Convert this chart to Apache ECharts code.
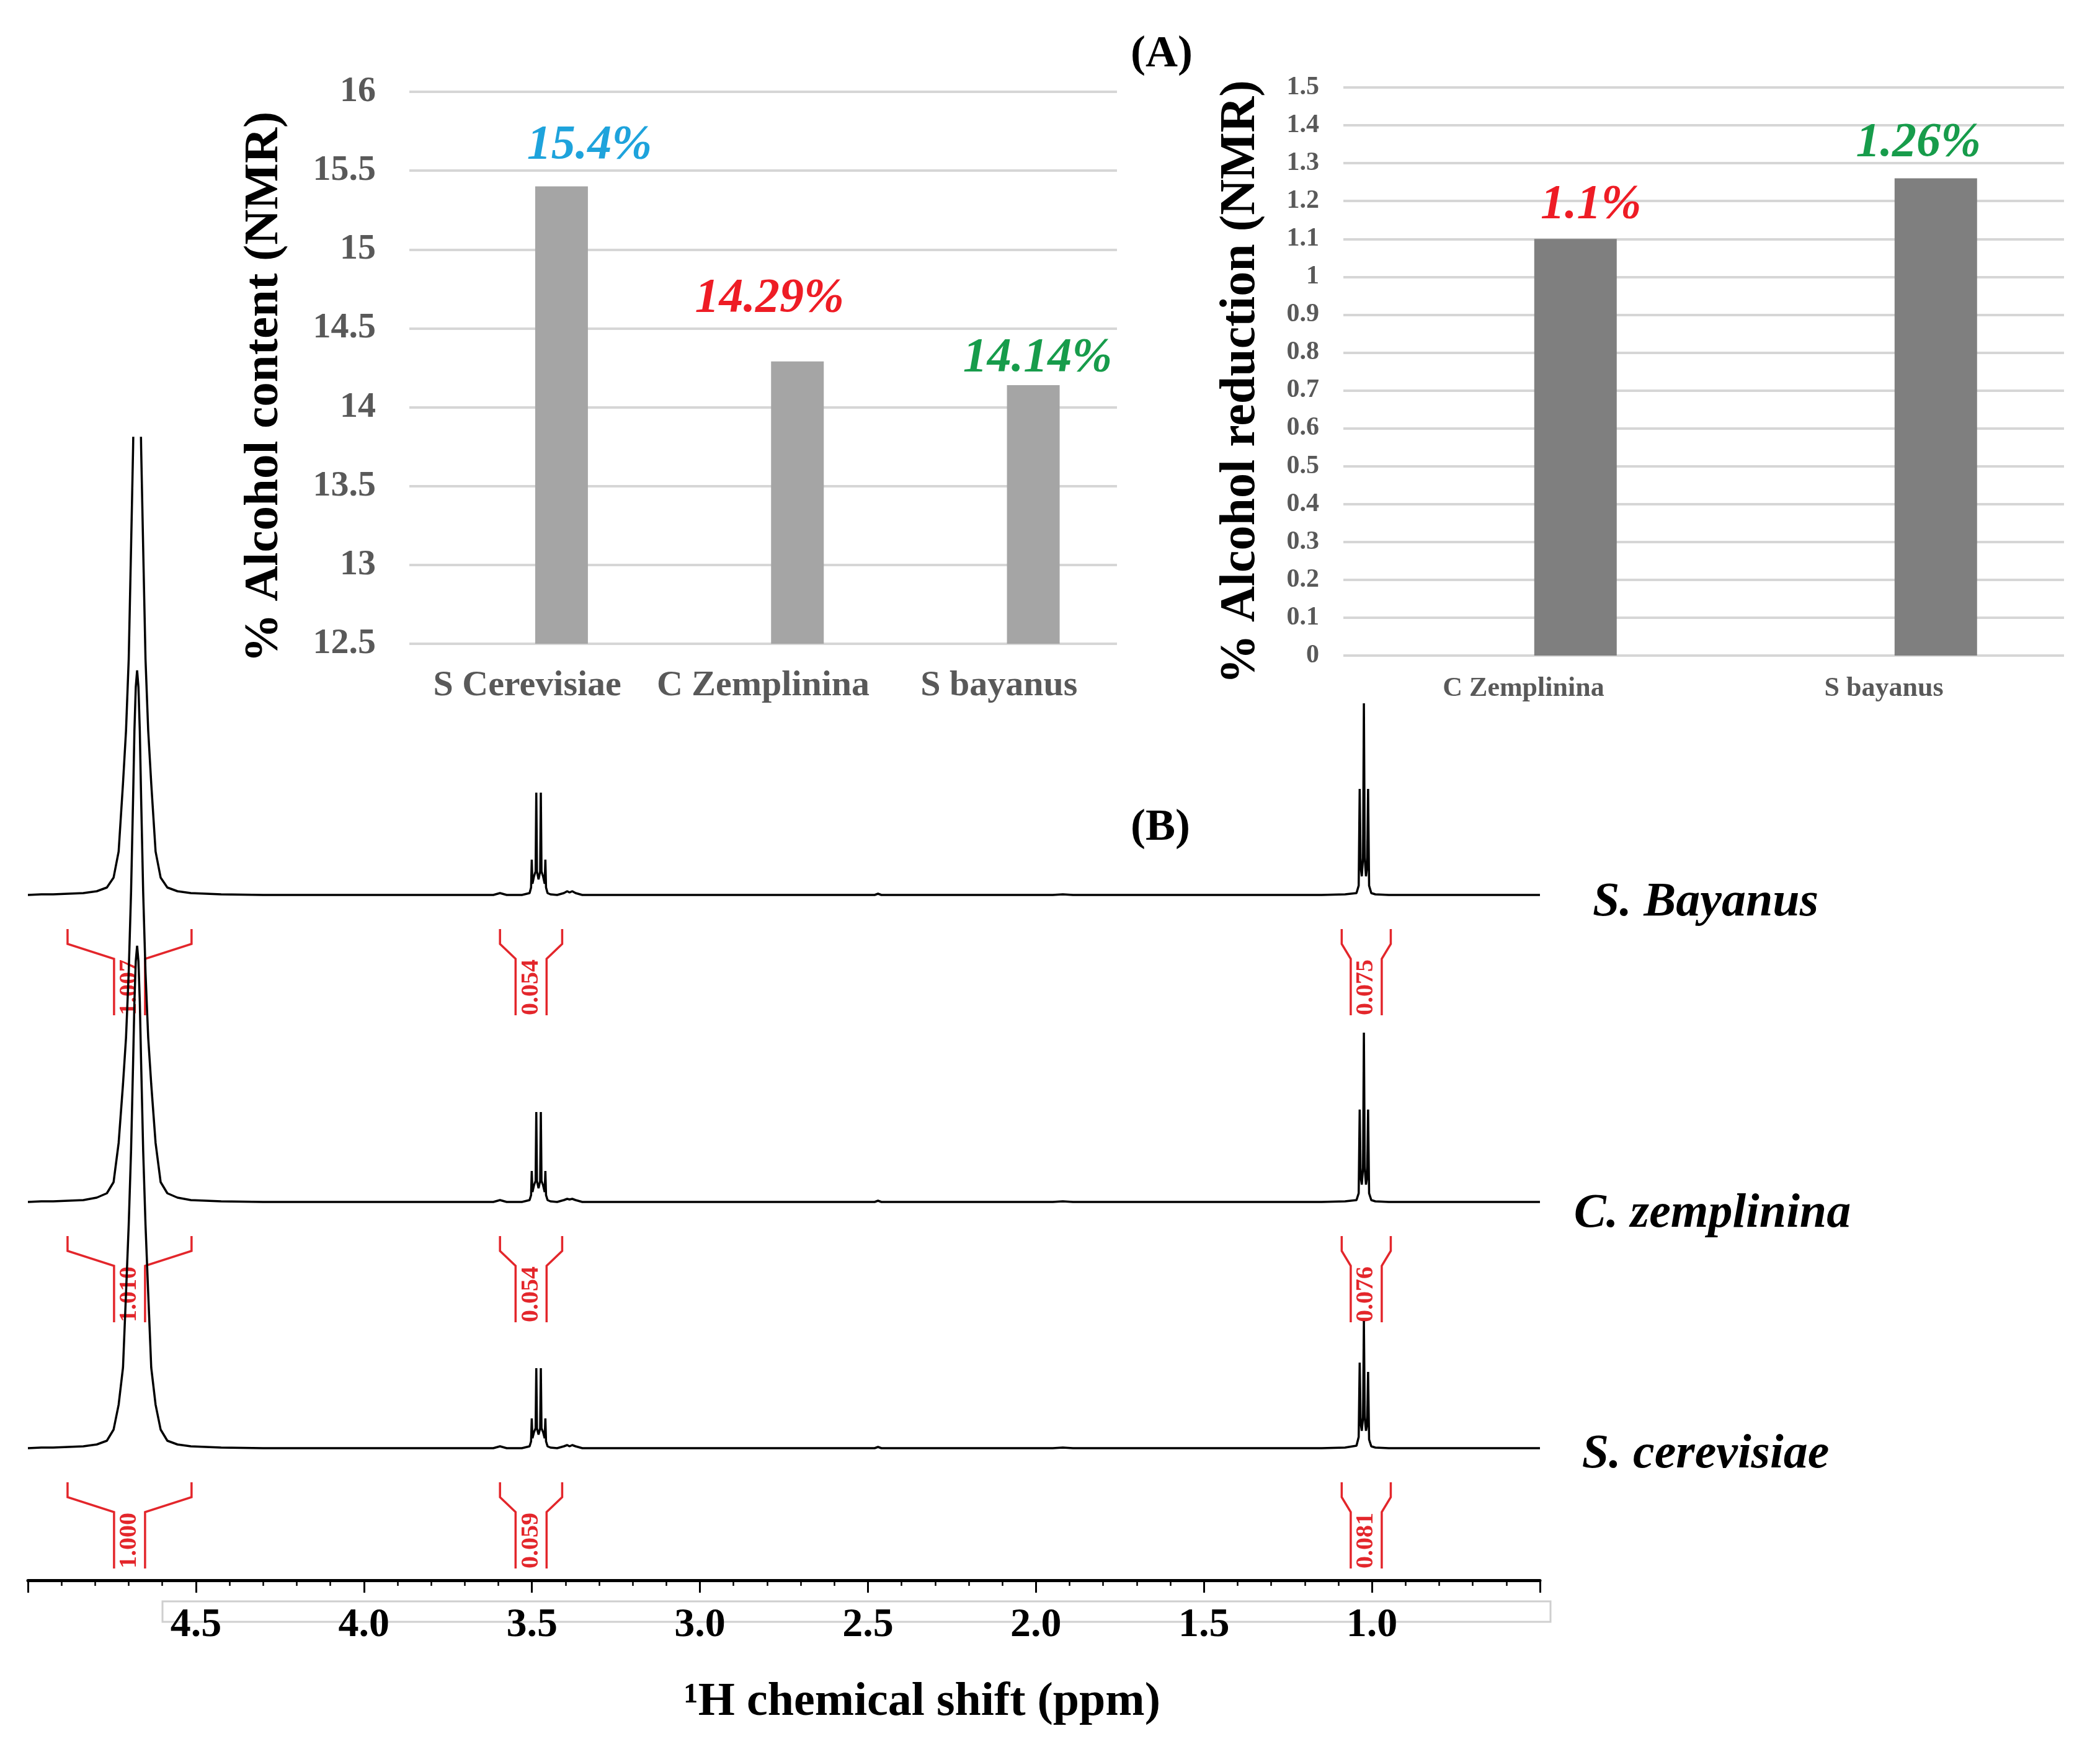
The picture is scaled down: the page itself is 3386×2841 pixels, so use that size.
<!DOCTYPE html>
<html>
<head>
<meta charset="utf-8">
<title>Alcohol content by NMR</title>
<script src="https://cdn.jsdelivr.net/npm/echarts@6/dist/echarts.min.js"></script>
<style>
  html, body { margin: 0; padding: 0; background: #fff; }
  #chart { width: 3386px; height: 2841px; }
</style>
</head>
<body>
<div id="chart"></div>
<script>
// ---- (A) left: alcohol content ----
const contentStrains = ['S Cerevisiae', 'C Zemplinina', 'S bayanus'];
const contentValues = [15.4, 14.29, 14.14];
const contentAxis = { min: 12.5, max: 16, interval: 0.5 };

// ---- (A) right: alcohol reduction ----
const reductionStrains = ['C Zemplinina', 'S bayanus'];
const reductionValues = [1.1, 1.26];
const reductionAxis = { min: 0, max: 1.5, interval: 0.1 };

// ---- (B) 1H spectra, shared chemical shift samples (ppm) ----
const shiftPpm = [
  5.00, 4.96,
  // water
  4.925, 4.835, 4.795, 4.765, 4.745, 4.730, 4.717, 4.708, 4.700, 4.693, 4.687, 4.683, 4.679,
  4.675,
  4.671, 4.667, 4.663, 4.657, 4.650, 4.642, 4.633, 4.620, 4.605, 4.585, 4.555, 4.515, 4.425,
  4.30, 4.10, 3.90, 3.75, 3.65, 3.615, 3.595, 3.575, 3.53,
  // CH2 quartet
  3.507, 3.5025, 3.5005, 3.4985, 3.4938, 3.4890, 3.4870, 3.4850, 3.4803,
  3.4755, 3.4735, 3.4715, 3.4668, 3.4620, 3.4600, 3.4580, 3.4535,
  3.445, 3.425, 3.405, 3.395, 3.388, 3.380, 3.370, 3.350,
  3.20, 3.00, 2.80, 2.60, 2.48, 2.47, 2.46, 2.20, 1.95, 1.92, 1.89, 1.60, 1.30, 1.15, 1.08,
  // CH3 triplet
  1.046, 1.0395, 1.0365, 1.0335, 1.0302, 1.0265, 1.0240, 1.0215, 1.0178, 1.0145, 1.0115, 1.0085, 1.002,
  0.99, 0.95, 0.85, 0.70, 0.50
];

const bayanusIntensity = [
  0, 1,
  1, 3, 6, 12, 28, 70, 180, 265, 380, 560, 720, 860, 960,
  1000,
  960, 860, 720, 560, 380, 265, 180, 70, 28, 12, 6, 3, 1,
  0, 0, 0, 0, 0, 0, 3, 0, 0,
  3, 12, 57, 18, 30, 38, 165, 38, 25,
  38, 165, 38, 30, 18, 57, 12, 3,
  1, 0, 3, 6, 4, 6, 3, 0,
  0, 0, 0, 0, 0, 2, 0, 0, 0, 1, 0, 0, 0, 0, 1,
  3, 15, 171, 45, 30, 60, 309, 60, 30, 45, 171, 15, 3,
  1, 0, 0, 0, 0
];

const zemplininaIntensity = [
  0, 1,
  1, 3, 7, 14, 32, 95, 190, 265, 370, 500, 650, 760, 830,
  857,
  830, 760, 650, 500, 370, 265, 190, 95, 32, 14, 7, 3, 1,
  0, 0, 0, 0, 0, 0, 3, 0, 0,
  3, 11, 50, 16, 27, 34, 145, 34, 22,
  34, 145, 34, 27, 16, 50, 11, 3,
  1, 0, 3, 5, 4, 5, 3, 0,
  0, 0, 0, 0, 0, 2, 0, 0, 0, 1, 0, 0, 0, 0, 1,
  3, 14, 149, 40, 28, 55, 273, 55, 28, 40, 149, 14, 3,
  1, 0, 0, 0, 0
];

const cerevisiaeIntensity = [
  0, 1,
  1, 3, 6, 12, 30, 70, 130, 250, 360, 480, 620, 720, 785,
  810,
  785, 720, 620, 480, 360, 250, 130, 70, 30, 12, 6, 3, 1,
  0, 0, 0, 0, 0, 0, 3, 0, 0,
  3, 11, 48, 16, 26, 32, 129, 32, 22,
  32, 129, 32, 26, 16, 48, 11, 3,
  1, 0, 3, 5, 3, 5, 3, 0,
  0, 0, 0, 0, 0, 2, 0, 0, 0, 1, 0, 0, 0, 0, 1,
  4, 18, 138, 40, 28, 50, 205, 50, 28, 38, 123, 14, 3,
  1, 0, 0, 0, 0
];

const traceNames = ['S. Bayanus', 'C. zemplinina', 'S. cerevisiae'];
const integralRegions = [[4.882, 4.513], [3.595, 3.410], [1.090, 0.944]];
const integralValues = [
  ['1.007', '0.054', '0.075'],
  ['1.010', '0.054', '0.076'],
  ['1.000', '0.059', '0.081']
];
const shiftAxis = { min: 0.5, max: 5.0, interval: 0.5 };

// ---- layout / style ----
const serif = "'Liberation Serif', 'Times New Roman', 'DejaVu Serif', serif";
const red = '#e3262b';
const traceOffset = [1105, 610, 213];   // baseline of each stacked trace, in y units
const traceLabelPos = [[2750, 1456], [2761, 1958], [2750, 2346]];
const contentLabelColors = ['#1ea3dc', '#ee1c25', '#179c4b'];
const contentLabelOffsets = [[45, -27], [-45, -62], [7, -4]];
const reductionLabelColors = ['#ee1c25', '#179c4b'];
const reductionLabelOffsets = [[25, -15], [-28, -18]];

const chart = echarts.init(document.getElementById('chart'));

const barLabel = {
  show: true,
  position: 'top',
  distance: 0,
  fontFamily: serif,
  fontWeight: 'bold',
  fontStyle: 'italic',
  fontSize: 78,
  formatter: p => p.value + '%'
};

const intensities = [bayanusIntensity, zemplininaIntensity, cerevisiaeIntensity];

const spectrumSeries = intensities.map((arr, k) => ({
  type: 'line',
  name: traceNames[k],
  xAxisIndex: 2,
  yAxisIndex: 2,
  data: shiftPpm.map((p, i) => [p, arr[i] + traceOffset[k]]),
  showSymbol: false,
  symbol: 'none',
  clip: true,
  z: 3,
  lineStyle: { color: '#000', width: 3.5 }
}));

const integralData = [];
traceOffset.forEach((_, k) => {
  integralRegions.forEach((r, j) => integralData.push([r[0], r[1], k, j]));
});

const integralSeries = {
  type: 'custom',
  xAxisIndex: 2,
  yAxisIndex: 2,
  z: 1,
  encode: { x: [0, 1], y: 2 },
  data: integralData,
  renderItem: (params, api) => {
    const k = api.value(2), j = api.value(3);
    const a = api.coord([api.value(0), traceOffset[k]]);
    const b = api.coord([api.value(1), traceOffset[k]]);
    const by = a[1];
    const x1 = Math.min(a[0], b[0]), x2 = Math.max(a[0], b[0]);
    const cx = (x1 + x2) / 2;
    const line = { stroke: red, lineWidth: 3.5, fill: null };
    return {
      type: 'group',
      children: [
        { type: 'polyline', shape: { points: [[x1, by + 55], [x1, by + 79], [cx - 25, by + 103], [cx - 25, by + 194]] }, style: line },
        { type: 'polyline', shape: { points: [[x2, by + 55], [x2, by + 79], [cx + 25, by + 103], [cx + 25, by + 194]] }, style: line },
        {
          type: 'text', x: cx, y: by + 149, rotation: Math.PI / 2,
          style: {
            text: integralValues[k][j], fill: red, fontFamily: serif, fontWeight: 'bold',
            fontSize: 40, align: 'center', verticalAlign: 'middle'
          }
        }
      ]
    };
  }
};

const graphicText = (text, x, y, size, opts) => Object.assign({
  type: 'text', x: x, y: y,
  style: Object.assign({
    text: text, fill: '#000', fontFamily: serif, fontWeight: 'bold', fontSize: size,
    align: 'center', verticalAlign: 'middle'
  }, (opts && opts.style) || {})
}, (opts && opts.el) || {});

const option = {
  animation: false,
  backgroundColor: '#fff',
  grid: [
    { left: 660, right: 1585, top: 148, bottom: 1803 },
    { left: 2166, right: 58, top: 141, bottom: 1784 },
    { left: 45, right: 903, top: 706, bottom: 293 }
  ],
  xAxis: [
    {
      gridIndex: 0, type: 'category', data: contentStrains,
      axisLine: { show: false }, axisTick: { show: false },
      axisLabel: { interval: 0, margin: 39, fontFamily: serif, fontWeight: 'bold', fontSize: 58, color: '#595959' }
    },
    {
      gridIndex: 1, type: 'category', data: reductionStrains,
      axisLine: { show: false }, axisTick: { show: false },
      axisLabel: { interval: 0, margin: 32, fontFamily: serif, fontWeight: 'bold', fontSize: 44, color: '#595959' }
    },
    {
      gridIndex: 2, type: 'value', inverse: true,
      min: shiftAxis.min, max: shiftAxis.max, interval: shiftAxis.interval,
      axisLine: { onZero: false, lineStyle: { color: '#000', width: 5 } },
      axisTick: { show: true, length: 20, lineStyle: { color: '#000', width: 3 } },
      minorTick: { show: true, splitNumber: 5, length: 9, lineStyle: { color: '#000', width: 2.5 } },
      splitLine: { show: false },
      axisLabel: {
        margin: 40, fontFamily: serif, fontWeight: 'bold', fontSize: 66, color: '#000',
        showMinLabel: false, showMaxLabel: false,
        formatter: v => v.toFixed(1)
      }
    }
  ],
  yAxis: [
    {
      gridIndex: 0, type: 'value',
      min: contentAxis.min, max: contentAxis.max, interval: contentAxis.interval,
      axisLine: { show: false }, axisTick: { show: false },
      splitLine: { lineStyle: { color: '#d6d6d6', width: 4 } },
      axisLabel: { margin: 54, fontFamily: serif, fontWeight: 'bold', fontSize: 58, color: '#595959' }
    },
    {
      gridIndex: 1, type: 'value',
      min: reductionAxis.min, max: reductionAxis.max, interval: reductionAxis.interval,
      axisLine: { show: false }, axisTick: { show: false },
      splitLine: { lineStyle: { color: '#d6d6d6', width: 4 } },
      axisLabel: { margin: 39, fontFamily: serif, fontWeight: 'bold', fontSize: 42, color: '#595959' }
    },
    { gridIndex: 2, type: 'value', show: false, min: 0, max: 1842 }
  ],
  series: [
    // empty first slot so the bars sit right of the category centre, as in the original
    { type: 'bar', xAxisIndex: 0, yAxisIndex: 0, barWidth: 85, barGap: '30%', data: contentStrains.map(() => null) },
    {
      type: 'bar', xAxisIndex: 0, yAxisIndex: 0, barWidth: 85, barGap: '30%',
      itemStyle: { color: '#a5a5a5' },
      label: barLabel,
      data: contentValues.map((v, i) => ({
        value: v,
        label: { color: contentLabelColors[i], offset: contentLabelOffsets[i] }
      }))
    },
    { type: 'bar', xAxisIndex: 1, yAxisIndex: 1, barWidth: 133, barGap: '26%', data: reductionStrains.map(() => null) },
    {
      type: 'bar', xAxisIndex: 1, yAxisIndex: 1, barWidth: 133, barGap: '26%',
      itemStyle: { color: '#7f7f7f' },
      label: barLabel,
      data: reductionValues.map((v, i) => ({
        value: v,
        label: { color: reductionLabelColors[i], offset: reductionLabelOffsets[i] }
      }))
    },
    integralSeries
  ].concat(spectrumSeries),
  graphic: [
    { type: 'rect', z: 0, shape: { x: 262, y: 2582, width: 2238, height: 33 }, style: { fill: 'none', stroke: '#cfcfcf', lineWidth: 3 } },
    graphicText('% Alcohol content (NMR)', 427, 624, 79, { el: { rotation: Math.PI / 2 } }),
    graphicText('% Alcohol reduction (NMR)', 2001, 616, 80, { el: { rotation: Math.PI / 2 } }),
    graphicText('(A)', 1873, 88, 72),
    graphicText('(B)', 1871, 1335, 72),
    graphicText('\u00B9H chemical shift (ppm)', 1487, 2745, 76)
  ].concat(traceNames.map((n, k) =>
    graphicText(n, traceLabelPos[k][0], traceLabelPos[k][1], 78, { style: { fontStyle: 'italic' } })
  ))
};

chart.setOption(option);
</script>
</body>
</html>
